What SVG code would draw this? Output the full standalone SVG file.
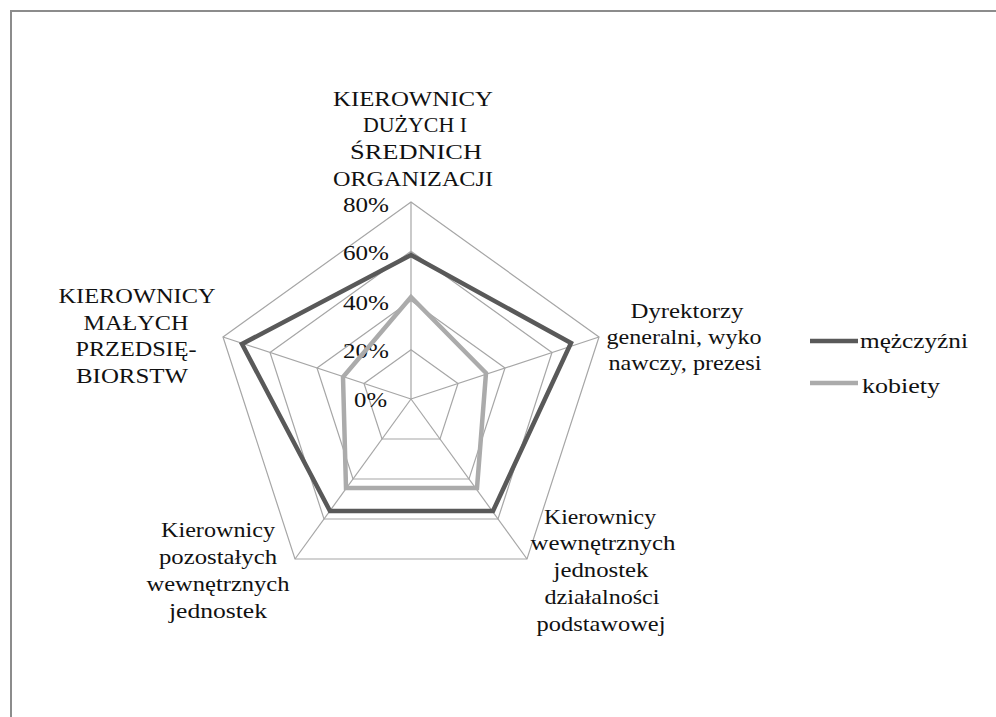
<svg xmlns="http://www.w3.org/2000/svg" width="996" height="717" viewBox="0 0 996 717">
  <style>
    .frame { fill: none; stroke: #8c8c8c; stroke-width: 2; }
    .grid { fill: none; stroke: #a6a6a6; stroke-width: 1.2; }
    .spoke { stroke: #a6a6a6; stroke-width: 1.2; }
    .men { fill: none; stroke: #595959; stroke-width: 4.5; stroke-linejoin: miter; }
    .women { fill: none; stroke: #ababab; stroke-width: 4.5; stroke-linejoin: miter; }
    .lbl, .tick, .leg { font-family: 'Liberation Serif', serif; fill: #111; }
    .lbl { font-size: 22px; text-anchor: middle; }
    .tick { font-size: 21px; text-anchor: end; }
    .leg { font-size: 22px; }
  </style>

  <rect width="996" height="717" fill="#ffffff"/>
  <!-- chart frame (continues past the right and bottom edges) -->
  <path class="frame" d="M11,717 V11 H996"/>

  <!-- radar grid: 0-80% rings and axes -->
  <g id="grid">
    <polygon class="grid" points="411,202 599,337 527,559 295,559 223,337"/>
    <polygon class="grid" points="411,251.25 552,352.5 498,519 324,519 270,352.5"/>
    <polygon class="grid" points="411,300.5 505,368 469,479 353,479 317,368"/>
    <polygon class="grid" points="411,349.75 458,383.5 440,439 382,439 364,383.5"/>
    <line class="spoke" x1="411" y1="399" x2="411" y2="202"/>
    <line class="spoke" x1="411" y1="399" x2="599" y2="337"/>
    <line class="spoke" x1="411" y1="399" x2="527" y2="559"/>
    <line class="spoke" x1="411" y1="399" x2="295" y2="559"/>
    <line class="spoke" x1="411" y1="399" x2="223" y2="337"/>
  </g>

  <!-- scale labels -->
  <g id="scale">
    <text class="tick" font-family="Liberation Serif" x="389" y="212" textLength="46" lengthAdjust="spacingAndGlyphs">80%</text>
    <text class="tick" font-family="Liberation Serif" x="389" y="260" textLength="46" lengthAdjust="spacingAndGlyphs">60%</text>
    <text class="tick" font-family="Liberation Serif" x="389" y="310" textLength="46" lengthAdjust="spacingAndGlyphs">40%</text>
    <text class="tick" font-family="Liberation Serif" x="389" y="358" textLength="46" lengthAdjust="spacingAndGlyphs">20%</text>
    <text class="tick" font-family="Liberation Serif" x="387" y="407" textLength="33" lengthAdjust="spacingAndGlyphs">0%</text>
  </g>

  <!-- data series -->
  <g id="series">
    <polygon id="series-men" class="men" points="411,255 571,343 493,511 330,511 242,344"/>
    <polygon id="series-women" class="women" points="411,297 486,373 477,488 346,488 343,377"/>
  </g>

  <!-- axis labels -->
  <g id="axis-top">
    <text class="lbl" font-family="Liberation Serif" x="413" y="106" textLength="160" lengthAdjust="spacingAndGlyphs">KIEROWNICY</text>
    <text class="lbl" font-family="Liberation Serif" x="415" y="132" textLength="104" lengthAdjust="spacingAndGlyphs">DUŻYCH I</text>
    <text class="lbl" font-family="Liberation Serif" x="416" y="159" textLength="132" lengthAdjust="spacingAndGlyphs">ŚREDNICH</text>
    <text class="lbl" font-family="Liberation Serif" x="413" y="186" textLength="160" lengthAdjust="spacingAndGlyphs">ORGANIZACJI</text>
  </g>
  <g id="axis-right">
    <text class="lbl" font-family="Liberation Serif" x="687" y="318" textLength="113" lengthAdjust="spacingAndGlyphs">Dyrektorzy</text>
    <text class="lbl" font-family="Liberation Serif" x="684" y="344" textLength="155" lengthAdjust="spacingAndGlyphs">generalni, wyko</text>
    <text class="lbl" font-family="Liberation Serif" x="685" y="370" textLength="153" lengthAdjust="spacingAndGlyphs">nawczy, prezesi</text>
  </g>
  <g id="axis-bottom-right">
    <text class="lbl" font-family="Liberation Serif" x="600" y="524" textLength="112" lengthAdjust="spacingAndGlyphs">Kierownicy</text>
    <text class="lbl" font-family="Liberation Serif" x="603" y="550" textLength="145" lengthAdjust="spacingAndGlyphs">wewnętrznych</text>
    <text class="lbl" font-family="Liberation Serif" x="601" y="577" textLength="95" lengthAdjust="spacingAndGlyphs">jednostek</text>
    <text class="lbl" font-family="Liberation Serif" x="602" y="604" textLength="115" lengthAdjust="spacingAndGlyphs">działalności</text>
    <text class="lbl" font-family="Liberation Serif" x="601" y="631" textLength="129" lengthAdjust="spacingAndGlyphs">podstawowej</text>
  </g>
  <g id="axis-bottom-left">
    <text class="lbl" font-family="Liberation Serif" x="218" y="537" textLength="114" lengthAdjust="spacingAndGlyphs">Kierownicy</text>
    <text class="lbl" font-family="Liberation Serif" x="218" y="564" textLength="118" lengthAdjust="spacingAndGlyphs">pozostałych</text>
    <text class="lbl" font-family="Liberation Serif" x="218" y="591" textLength="143" lengthAdjust="spacingAndGlyphs">wewnętrznych</text>
    <text class="lbl" font-family="Liberation Serif" x="218" y="618" textLength="98" lengthAdjust="spacingAndGlyphs">jednostek</text>
  </g>
  <g id="axis-left">
    <text class="lbl" font-family="Liberation Serif" x="137" y="303" textLength="157" lengthAdjust="spacingAndGlyphs">KIEROWNICY</text>
    <text class="lbl" font-family="Liberation Serif" x="136" y="330" textLength="105" lengthAdjust="spacingAndGlyphs">MAŁYCH</text>
    <text class="lbl" font-family="Liberation Serif" x="136" y="356" textLength="121" lengthAdjust="spacingAndGlyphs">PRZEDSIĘ-</text>
    <text class="lbl" font-family="Liberation Serif" x="132" y="383" textLength="112" lengthAdjust="spacingAndGlyphs">BIORSTW</text>
  </g>

  <!-- legend -->
  <g id="legend">
    <g id="legend-men">
      <line class="men" x1="810" y1="341" x2="858" y2="341"/>
      <text class="leg" font-family="Liberation Serif" x="860" y="348" textLength="108" lengthAdjust="spacingAndGlyphs">mężczyźni</text>
    </g>
    <g id="legend-women">
      <line class="women" x1="810" y1="383" x2="858" y2="383"/>
      <text class="leg" font-family="Liberation Serif" x="862" y="393" textLength="78" lengthAdjust="spacingAndGlyphs">kobiety</text>
    </g>
  </g>
</svg>
